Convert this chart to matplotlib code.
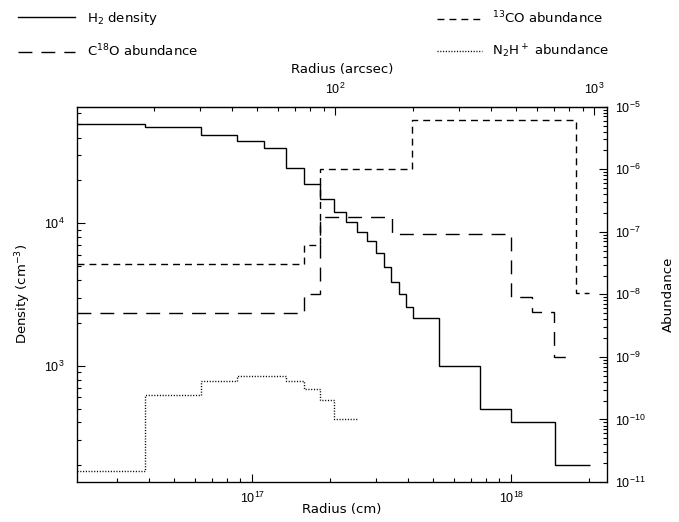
import matplotlib
matplotlib.use("Agg")
import matplotlib.pyplot as plt
from matplotlib.lines import Line2D
from matplotlib.ticker import LogLocator, NullFormatter, FixedLocator

plt.rcParams['font.family'] = ['DejaVu Sans']
plt.rcParams['mathtext.default'] = 'regular'
plt.rcParams['lines.scale_dashes'] = False
plt.rcParams['font.size'] = 9.5

# ---- data ----
dens_edges = [2.105e16, 3.86e16, 6.34e16, 8.73e16, 1.112e17, 1.346e17, 1.585e17,
              1.83e17, 2.06e17, 2.294e17, 2.53e17, 2.765e17, 3.0e17, 3.226e17,
              3.44e17, 3.695e17, 3.92e17, 4.155e17, 5.27e17, 7.57e17, 1.0e18,
              1.476e18, 2.02e18]
dens = [5.0e4, 4.75e4, 4.15e4, 3.8e4, 3.4e4, 2.45e4, 1.88e4, 1.48e4, 1.2e4,
        1.02e4, 8.65e3, 7.55e3, 6.15e3, 4.9e3, 3.87e3, 3.17e3, 2.6e3, 2.15e3,
        1.0e3, 5.0e2, 4.0e2, 2.0e2]

co13_edges = [2.105e16, 1.585e17, 1.83e17, 4.15e17, 1.773e18, 2.0e18]
co13 = [3.05e-8, 6.1e-8, 1.0e-6, 6.1e-6, 1.04e-8]

c18o_edges = [2.105e16, 1.585e17, 1.83e17, 3.45e17, 1.0e18, 1.2e18, 1.466e18, 1.70e18]
c18o = [5.1e-9, 1.0e-8, 1.74e-7, 9.1e-8, 9.2e-9, 5.2e-9, 1.0e-9]

n2h_edges = [2.105e16, 3.86e16, 6.34e16, 8.73e16, 1.346e17, 1.585e17, 1.83e17, 2.06e17, 2.54e17]
n2h = [1.5e-11, 2.5e-10, 4.07e-10, 5.0e-10, 4.07e-10, 3.03e-10, 2.05e-10, 1.0e-10]

arcsec_ticks = [100, 1000]
cm_per_arcsec = 140 * 1.496e13

labels = ['H$_2$ density', 'C$^{18}$O abundance', '$^{13}$CO abundance', 'N$_2$H$^+$ abundance']

# ---- styles ----
LW = 1.0
st_dens = dict(color='black', lw=LW, linestyle='-')
st_c18o = dict(color='black', lw=LW, linestyle=(0, (10, 6.5)))
st_co13 = dict(color='black', lw=LW, linestyle=(0, (5, 3.6)))
st_n2h = dict(color='black', lw=LW, linestyle=(0, (0.8, 1.2)))
TICKFONT = 'Liberation Sans'
TICKSIZE = 9

fig = plt.figure(figsize=(6.79, 5.22), dpi=100)
ax = fig.add_axes([77/679, 40/522, 529.7/679, 375.3/522])
ax.set_xscale('log')
ax.set_yscale('log')
ax.set_xlim(2.105e16, 2.335e18)
ax.set_ylim(152.5, 6.59e4)

ax.stairs(dens, dens_edges, baseline=None, **st_dens)

ax2 = ax.twinx()
ax2.set_yscale('log')
ax2.set_ylim(1e-11, 1e-5)
ax2.stairs(co13, co13_edges, baseline=None, **st_co13)
ax2.stairs(c18o, c18o_edges, baseline=None, **st_c18o)
ax2.stairs(n2h, n2h_edges, baseline=None, **st_n2h)

# ticks
for a in (ax, ax2):
    a.tick_params(which='major', direction='in', length=5.8, width=0.8,
                  labelfontfamily=TICKFONT, labelsize=TICKSIZE)
    a.tick_params(which='minor', direction='in', length=2.9, width=0.8)
ax.tick_params(axis='x', which='both', top=False, pad=6)
ax.tick_params(axis='y', which='both', right=False, pad=9)
ax2.tick_params(axis='y', which='both', pad=6)
ax.xaxis.set_minor_locator(LogLocator(base=10, subs=range(2, 10), numticks=20))
ax.xaxis.set_minor_formatter(NullFormatter())
ax.yaxis.set_minor_locator(LogLocator(base=10, subs=range(2, 10), numticks=20))
ax.yaxis.set_minor_formatter(NullFormatter())
ax2.yaxis.set_major_locator(LogLocator(base=10, numticks=20))
ax2.yaxis.set_minor_locator(LogLocator(base=10, subs=range(2, 10), numticks=20))
ax2.yaxis.set_minor_formatter(NullFormatter())

sec = ax.secondary_xaxis('top', functions=(lambda x: x / cm_per_arcsec,
                                           lambda x: x * cm_per_arcsec))
sec.set_xscale('log')
sec.xaxis.set_major_locator(FixedLocator(arcsec_ticks))
sec.xaxis.set_minor_locator(LogLocator(base=10, subs=range(2, 10), numticks=20))
sec.xaxis.set_minor_formatter(NullFormatter())
sec.tick_params(which='major', direction='in', length=5.8, width=0.8, pad=7,
                labelfontfamily=TICKFONT, labelsize=TICKSIZE)
sec.tick_params(which='minor', direction='in', length=2.9, width=0.8)
sec.set_xlabel('Radius (arcsec)', labelpad=6.5)

for s in ax.spines.values():
    s.set_linewidth(0.9)

ax.set_xlabel('Radius (cm)', labelpad=-1.5)
ax.set_ylabel('Density (cm$^{-3}$)', labelpad=8)
ax2.set_ylabel('Abundance', labelpad=12)

# legends
h = [Line2D([], [], **st_dens), Line2D([], [], **st_c18o),
     Line2D([], [], **st_co13), Line2D([], [], **st_n2h)]
fig.legend(handles=h[:2], labels=labels[:2], loc='upper left',
           bbox_to_anchor=(18/679, 1 - 10/522), borderaxespad=0, borderpad=0,
           handlelength=4.3, handletextpad=0.9, labelspacing=1.2, frameon=False,
           fontsize=9.5)
fig.legend(handles=h[2:], labels=labels[2:], loc='upper left',
           bbox_to_anchor=(437/679, 1 - 10/522), borderaxespad=0, borderpad=0,
           handlelength=3.4, handletextpad=0.75, labelspacing=1.2, frameon=False,
           fontsize=9.5)

fig.savefig('out.png', dpi=100)
